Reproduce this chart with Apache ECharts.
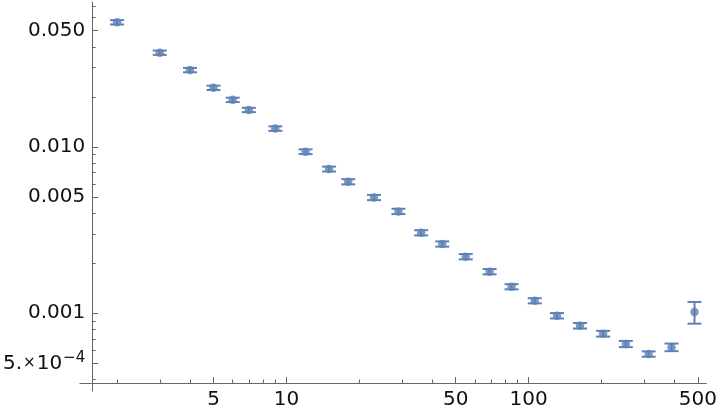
<!DOCTYPE html>
<html>
<head>
<meta charset="utf-8">
<script src="https://cdn.jsdelivr.net/npm/echarts@6/dist/echarts.min.js"></script>
<style>
html,body{margin:0;padding:0;background:#fff;}
#chart{width:720px;height:414px;}
</style>
</head>
<body>
<div id="chart"></div>
<script>
// ---- data ----
var xValues = [2, 3, 4, 5, 6, 7, 9, 12, 15, 18, 23, 29, 36, 44, 55, 69, 85, 106, 131, 163, 203, 252, 313, 389, 484];
var yValues = [0.0562, 0.0369, 0.0290, 0.0227, 0.0192, 0.0167, 0.0129, 0.00937, 0.00737, 0.00618,
               0.00497, 0.00410, 0.00305, 0.00261, 0.00219, 0.00178, 0.001445, 0.00119, 0.000967, 0.000842,
               0.000754, 0.000654, 0.000569, 0.000625, 0.001018];
var yErrors = [0.0017, 0.0011, 0.00087, 0.00068, 0.00058, 0.0005, 0.0004, 0.00031, 0.00025, 0.00022,
               0.00018, 0.00015, 0.00011, 0.000095, 0.00008, 0.000065, 0.000052, 0.000043, 0.000036, 0.000032,
               0.00003, 0.000028, 0.000021, 0.000033, 0.000152];

var xMajorTicks = [5, 10, 50, 100, 500];
var xMajorLabels = ['5', '10', '50', '100', '500'];
var xMinorTicks = [2, 3, 4, 6, 7, 8, 9, 20, 30, 40, 60, 70, 80, 90, 200, 300, 400];
var yMajorTicks = [0.0005, 0.001, 0.005, 0.01, 0.05];
var yMajorLabels = ['{m|5.}{t|×}{m|10}{s|−4}', '0.001', '0.005', '0.010', '0.050'];
var yMinorTicks = [0.0004, 0.0006, 0.0007, 0.0008, 0.0009, 0.002, 0.003, 0.004, 0.006, 0.007, 0.008, 0.009, 0.02, 0.03, 0.04, 0.06, 0.07];

var xMin = 1.4043, xMax = 541.6;
var yMin = 0.000341, yMax = 0.07443;

var pointColor = '#5E81B5';
var axisColor = '#666666';
var textColor = '#111111';
var font = 'DejaVu Sans';
var fs = 20;

function lookup(vals, labels, v) {
  for (var i = 0; i < vals.length; i++) {
    if (Math.abs(vals[i] - v) / vals[i] < 1e-6) return labels[i];
  }
  return '';
}

var scatterData = xValues.map(function (x, i) { return [x, yValues[i]]; });
var errorData = xValues.map(function (x, i) { return [x, yValues[i] - yErrors[i], yValues[i] + yErrors[i]]; });

var chart = echarts.init(document.getElementById('chart'), null, {renderer: 'canvas'});

function makeXAxis(ticks, len, showLabel, showLine) {
  return {
    type: 'log', logBase: 10, min: xMin, max: xMax, position: 'bottom', offset: -8,
    splitLine: {show: false},
    axisLine: {show: showLine, lineStyle: {color: axisColor, width: 1}},
    axisTick: {show: true, inside: true, length: len, customValues: ticks, lineStyle: {color: axisColor, width: 1}},
    axisLabel: showLabel ? {
      show: true, customValues: ticks, margin: 7, color: textColor, fontFamily: font, fontSize: fs,
      formatter: function (v) { return lookup(xMajorTicks, xMajorLabels, v); }
    } : {show: false}
  };
}
function makeYAxis(ticks, len, showLabel, showLine) {
  return {
    type: 'log', logBase: 10, min: yMin, max: yMax, position: 'left', offset: -12.3,
    splitLine: {show: false},
    axisLine: {show: showLine, lineStyle: {color: axisColor, width: 1}},
    axisTick: {show: true, inside: true, length: len, customValues: ticks, lineStyle: {color: axisColor, width: 1}},
    axisLabel: showLabel ? {
      show: true, customValues: ticks, margin: 7, color: textColor, fontFamily: font, fontSize: fs,
      formatter: function (v) { return lookup(yMajorTicks, yMajorLabels, v); },
      rich: {
        m: {fontSize: fs, fontFamily: font, color: textColor, lineHeight: 26},
        t: {fontSize: 15, fontFamily: font, color: textColor, lineHeight: 26, padding: [0, 1, 0, 1]},
        s: {fontSize: 15, fontFamily: font, color: textColor, lineHeight: 26, verticalAlign: 'top', padding: [0, 0, 0, 1]}
      }
    } : {show: false}
  };
}

chart.setOption({
  animation: false,
  backgroundColor: '#ffffff',
  grid: {left: 79, right: 11, top: 2, bottom: 23, containLabel: false},
  xAxis: [makeXAxis(xMajorTicks, 6, true, true), makeXAxis(xMinorTicks, 3.5, false, false)],
  yAxis: [makeYAxis(yMajorTicks, 6, true, true), makeYAxis(yMinorTicks, 3.5, false, false)],
  series: [
    {
      type: 'custom',
      xAxisIndex: 0, yAxisIndex: 0,
      data: errorData,
      encode: {x: 0, y: [1, 2]},
      renderItem: function (params, api) {
        var x = api.value(0);
        var lo = api.coord([x, api.value(1)]);
        var hi = api.coord([x, api.value(2)]);
        var hw = 7;
        var st = {stroke: pointColor, lineWidth: 2};
        return {
          type: 'group',
          children: [
            {type: 'line', shape: {x1: lo[0], y1: lo[1], x2: hi[0], y2: hi[1]}, style: st},
            {type: 'line', shape: {x1: lo[0] - hw, y1: lo[1], x2: lo[0] + hw, y2: lo[1]}, style: st},
            {type: 'line', shape: {x1: hi[0] - hw, y1: hi[1], x2: hi[0] + hw, y2: hi[1]}, style: st}
          ]
        };
      },
      z: 2
    },
    {
      type: 'scatter',
      xAxisIndex: 0, yAxisIndex: 0,
      data: scatterData,
      symbol: 'circle',
      symbolSize: 8.5,
      itemStyle: {color: pointColor},
      z: 3
    }
  ]
});
</script>
</body>
</html>
